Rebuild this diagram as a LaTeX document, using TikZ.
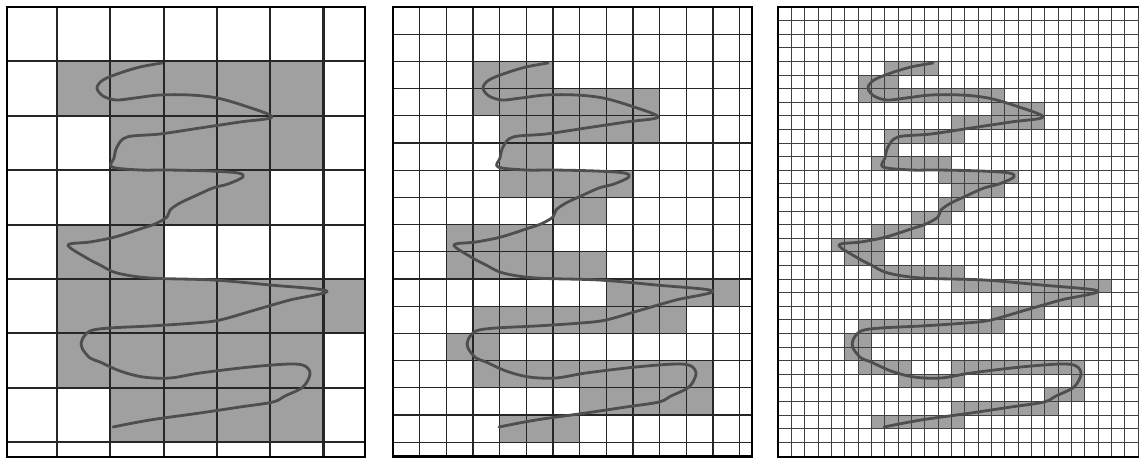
\documentclass[tikz,border=0pt]{standalone}
\definecolor{cellgray}{RGB}{160,160,160}
\definecolor{curvegray}{RGB}{78,78,78}
\newcommand{\spiral}{plot[smooth, tension=0.55] coordinates {
  (162,63) (140,67) (120,73) (103,80) (97,88) (103,96) (116,100) (135,98)
  (160,95) (190,95) (217,98) (245,106) (272,117) (240,122) (200,128)
  (160,134) (127,137) (117,147) (114,158) (112,167) (140,170) (167,170)
  (210,171) (238,173) (243,177) (228,184) (213,188) (195,196) (180,203)
  (170,210) (167,217) (155,224) (143,228) (115,237) (90,242) (68,245)
  (85,257) (100,265) (117,273) (150,278) (213,280) (270,285) (327,291)
  (290,300) (255,310) (220,320) (195,323) (150,326) (110,328) (90,331)
  (82,340) (82,348) (90,358) (100,362) (120,371) (143,377) (170,378)
  (200,373) (250,367) (290,364) (305,366) (310,374) (303,387) (285,396)
  (273,402) (240,407) (200,413) (150,420) (113,427)}}

\begin{document}
\begin{tikzpicture}[
  x=0.03cm, y=-0.03cm,
  cell/.style={fill=cellgray},
  gridA/.style={line width=1.8pt, black!85},
  gridB/.style={line width=1.1pt, black!85},
  gridC/.style={line width=0.65pt, black!75},
  frame/.style={line width=2.4pt, black},
  curve/.style={line width=2.4pt, curvegray, line cap=round, line join=round}]

  \useasboundingbox (0,0) rectangle (1139,460);

  % coarse grid
  \begin{scope}[shift={(3.7,7)}, x=1.599cm, y=-1.632cm]
    \begin{scope}
      \clip (0.062,0) rectangle (6.78,8.27);
      \foreach \r/\a/\b in {1/1/5, 2/2/5, 3/2/4, 4/1/2, 5/1/6, 6/1/5, 7/2/5}
        \foreach \i in {\a,...,\b}
          \fill[cell] (\i,\r) rectangle +(1,1);
    \end{scope}
    \foreach \i in {1,...,6}
      \draw[gridA] (\i,0) -- (\i,8.27);
    \foreach \r in {1,...,8}
      \draw[gridA] (0.062,\r) -- (6.78,\r);
    \draw[frame] (0.062,0) rectangle (6.78,8.27);
  \end{scope}
  \draw[curve] \spiral;

  % medium grid
  \begin{scope}[shift={(393,7)}, x=0.8cm, y=-0.816cm]
    \foreach \r/\a/\b in {2/3/5, 3/3/9, 4/4/9, 5/4/5, 6/4/8, 7/6/7, 8/2/5,
        9/2/7, 10/8/12, 11/3/10, 12/2/3, 13/3/11, 14/7/11, 15/4/6}
      \foreach \i in {\a,...,\b}
        \fill[cell] (\i,\r) rectangle +(1,1);
    \foreach \i in {1,...,13}
      \draw[gridB] (\i,0) -- (\i,16.54);
    \foreach \r in {1,...,16}
      \draw[gridB] (0,\r) -- (13.46,\r);
    \draw[frame] (0,0) rectangle (13.46,16.54);
  \end{scope}
  \begin{scope}[shift={(386,0)}]
    \draw[curve] \spiral;
  \end{scope}

  % fine grid
  \begin{scope}[shift={(778,7)}, x=0.4cm, y=-0.408cm]
    \foreach \r/\a/\b in {4/8/11, 5/6/8, 6/6/16, 7/16/19, 8/13/19, 9/8/13,
        10/8/8, 11/7/12, 12/12/17, 13/13/16, 14/12/13, 15/10/12, 16/7/10,
        17/4/7, 18/5/7, 19/7/13, 20/13/24, 21/19/23, 22/16/19, 23/6/16,
        24/5/6, 25/5/6, 26/6/9, 26/13/22, 27/9/13, 27/22/22, 28/20/22,
        29/13/20, 30/7/13}
      \foreach \i in {\a,...,\b}
        \fill[cell] (\i,\r) rectangle +(1,1);
    \foreach \i in {1,...,27}
      \draw[gridC] (\i,0) -- (\i,33.09);
    \foreach \r in {1,...,32}
      \draw[gridC] (0,\r) -- (27.08,\r);
    \draw[frame] (27.08,0) -- (0,0) -- (0,33.09) -- (27.08,33.09);
  \end{scope}
  \begin{scope}[shift={(771,0)}]
    \draw[curve] \spiral;
  \end{scope}
\end{tikzpicture}
\end{document}
